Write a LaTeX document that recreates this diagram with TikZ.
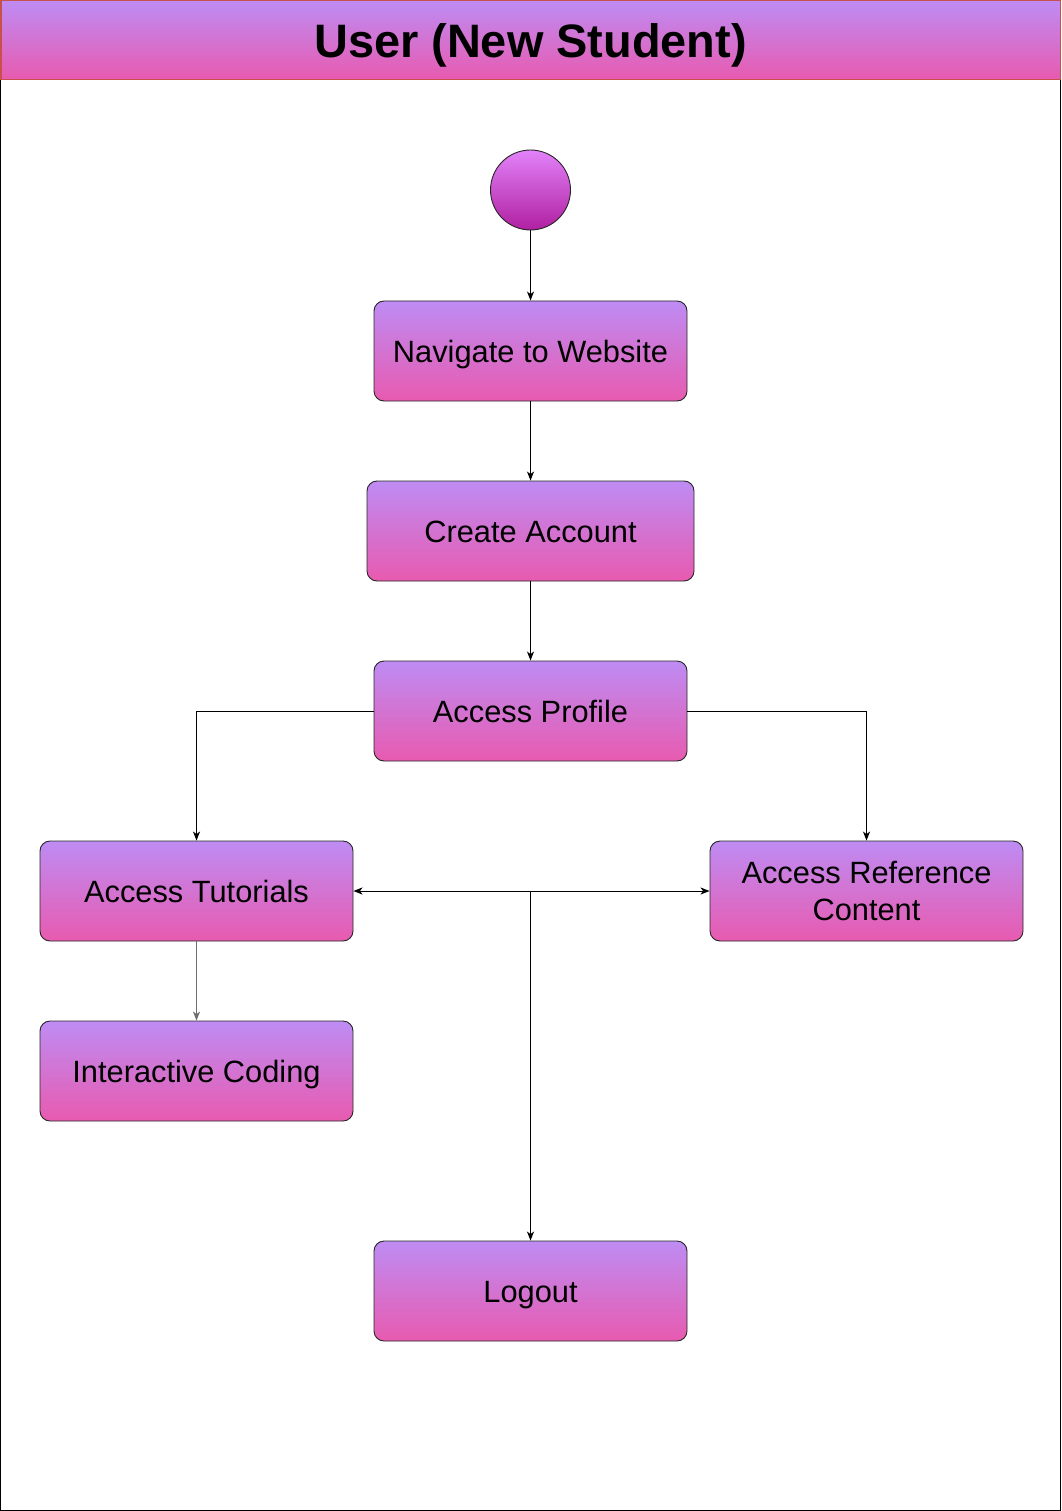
\documentclass[tikz,border=0pt]{standalone}
\usepackage{fontspec}
\setmainfont{Liberation Sans}
\usetikzlibrary{arrows.meta}
\definecolor{boxtop}{RGB}{190,140,244}
\definecolor{boxbot}{RGB}{232,90,175}
\definecolor{circtop}{RGB}{226,130,250}
\definecolor{circbot}{RGB}{176,32,160}
\definecolor{hdrline}{RGB}{200,80,74}
\definecolor{edgegray}{RGB}{110,110,110}
\begin{document}
\begin{tikzpicture}[x=1pt,y=-1pt,
  actbox/.style={draw=black!85, line width=0.9pt, rounded corners=10pt,
    top color=boxtop, bottom color=boxbot, minimum width=313pt, minimum height=100pt,
    inner sep=0pt, align=center, font=\fontsize{30.8}{36.6}\selectfont,
    text height=23.4pt, text depth=0pt},
  multibox/.style={actbox, text height=, text depth=},
  startnode/.style={circle, draw=black!85, line width=0.9pt, top color=circtop, bottom color=circbot,
    minimum size=80pt, inner sep=0pt},
  flow/.style={draw=black, line width=1pt, -{Stealth[length=9pt,width=7pt,inset=2.5pt]}},
  flowgray/.style={flow, draw=edgegray, line width=1.2pt},
  both/.style={draw=black, line width=1pt, {Stealth[length=9pt,width=7pt,inset=2.5pt]}-{Stealth[length=9pt,width=7pt,inset=2.5pt]}}
]
\useasboundingbox (0,0) rectangle (1061,1511);
\fill[white] (0,0) rectangle (1061,1511);
\draw[black, line width=1.3pt] (0.65,0.65) rectangle (1060.35,1510.35);
\node[draw=hdrline, line width=1.5pt, top color=boxtop, bottom color=boxbot,
  minimum width=1059.5pt, minimum height=79pt, inner sep=0pt, anchor=center,
  text height=34.6pt, text depth=0pt,
  font=\fontsize{46.9}{52}\selectfont\bfseries] (header) at (530.5,40.25) {User (New Student)};

\node[startnode] (start) at (530.5,190) {};
\node[actbox] (nav) at (530.5,351) {Navigate to Website};
\node[actbox, minimum width=327pt] (create) at (530.5,531) {Create Account};
\node[actbox] (profile) at (530.5,711) {Access Profile};
\node[actbox] (tut) at (196.5,891) {Access Tutorials};
\node[multibox] (ref) at (866.5,891) {Access Reference\\Content};
\node[actbox] (code) at (196.5,1071) {Interactive Coding};
\node[actbox] (logout) at (530.5,1291) {Logout};
\coordinate (j) at (530.5,891);

\draw[flow] (start) -- (nav);
\draw[flow] (nav) -- (create);
\draw[flow] (create) -- (profile);
\draw[flow] (profile.west) -| (tut.north);
\draw[flow] (profile.east) -| (ref.north);
\draw[flowgray] (tut) -- (code);
\draw[both] (tut.east) -- (ref.west);
\draw[flow] (j) -- (logout.north);
\end{tikzpicture}
\end{document}
